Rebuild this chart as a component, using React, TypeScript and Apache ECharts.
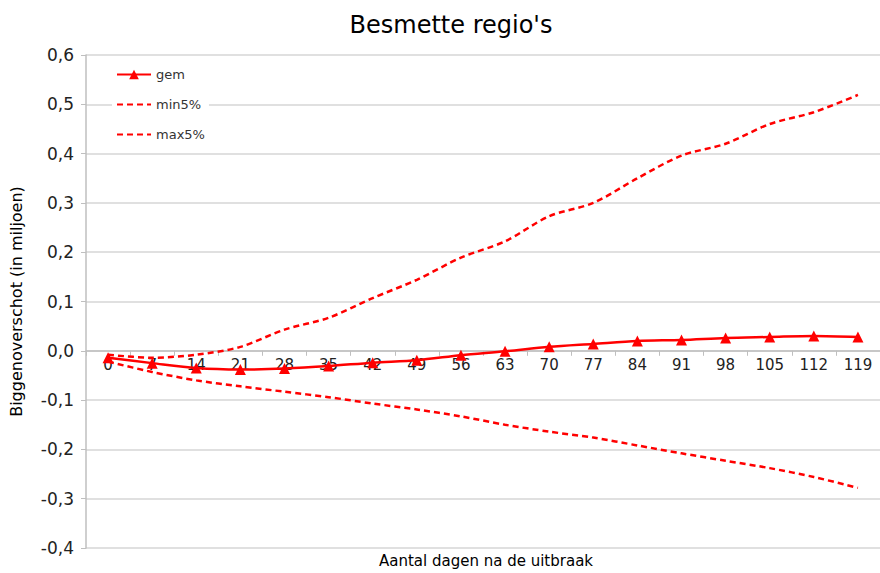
import React, { useEffect, useRef } from "react";
import * as echarts from "echarts";

const days = ["0", "7", "14", "21", "28", "35", "42", "49", "56", "63", "70", "77", "84", "91", "98", "105", "112", "119"];
const gem = [-0.014, -0.025, -0.035, -0.038, -0.036, -0.031, -0.024, -0.019, -0.009, -0.001, 0.008, 0.014, 0.02, 0.022, 0.026, 0.028, 0.03, 0.028];
const min5 = [-0.022, -0.043, -0.06, -0.072, -0.083, -0.094, -0.107, -0.119, -0.133, -0.15, -0.164, -0.176, -0.192, -0.208, -0.223, -0.238, -0.256, -0.278];
const max5 = [-0.008, -0.014, -0.008, 0.008, 0.043, 0.067, 0.107, 0.144, 0.189, 0.222, 0.273, 0.3, 0.35, 0.396, 0.42, 0.46, 0.484, 0.519];

const FONT = "DejaVu Sans";
const RED = "#ff0000";
const Y_MIN = -0.4;
const Y_MAX = 0.6;
const GRID_TOP = 55;
const GRID_H = 493;

export default function App() {
  const ref = useRef<HTMLDivElement>(null);
  useEffect(() => {
    if (!ref.current) return;
    const chart = echarts.init(ref.current, undefined, { renderer: "svg" });
    // distance from bottom of grid to the zero line
    const zeroOffset = (GRID_H * (0 - Y_MIN)) / (Y_MAX - Y_MIN);
    chart.setOption({
      animation: false,
      backgroundColor: "#ffffff",
      textStyle: { fontFamily: FONT },
      title: [
        {
          text: "Besmette regio's",
          left: 446,
          textAlign: "center",
          top: 8,
          textStyle: { fontFamily: FONT, fontSize: 24, fontWeight: "normal", color: "#000" },
        },
        {
          text: "Aantal dagen na de uitbraak",
          left: 486,
          textAlign: "center",
          top: 553,
          padding: 0,
          textStyle: { fontFamily: FONT, fontSize: 15, fontWeight: "normal", color: "#000" },
        },
      ],
      legend: {
        orient: "vertical",
        left: 112,
        top: 66,
        itemWidth: 34,
        itemHeight: 12,
        itemGap: 17,
        padding: [2, 4, 2, 4],
        backgroundColor: "#ffffff",
        textStyle: { fontFamily: FONT, fontSize: 13, color: "#333" },
        data: [
          { name: "gem" },
          { name: "min5%", itemStyle: { opacity: 0 } },
          { name: "max5%", itemStyle: { opacity: 0 } },
        ],
      },
      grid: { left: 86, top: GRID_TOP, width: 801, height: GRID_H, containLabel: false },
      xAxis: {
        type: "category",
        data: days,
        boundaryGap: true,
        position: "bottom",
        offset: -zeroOffset,
        axisLine: { onZero: false, lineStyle: { color: "#bfbfbf", width: 1.5 } },
        axisTick: { show: true, alignWithLabel: false, length: 5, lineStyle: { color: "#bfbfbf" } },
        axisLabel: { fontFamily: FONT, fontSize: 15, color: "#222", margin: 7 },
      },
      yAxis: {
        type: "value",
        min: Y_MIN,
        max: Y_MAX,
        interval: 0.1,
        name: "Biggenoverschot (in miljoen)",
        nameLocation: "middle",
        nameGap: 62,
        nameTextStyle: { fontFamily: FONT, fontSize: 16, color: "#000" },
        axisLine: { show: true, onZero: false, lineStyle: { color: "#bfbfbf", width: 1.5 } },
        axisTick: { show: true, length: 5, lineStyle: { color: "#bfbfbf" } },
        axisLabel: {
          fontFamily: FONT,
          fontSize: 17,
          color: "#222",
          margin: 12,
          formatter: (v: number) => v.toFixed(1).replace(".", ",").replace("-0,0", "0,0"),
        },
        splitLine: { show: true, lineStyle: { color: "#d6d6d6", width: 1.5 } },
      },
      series: [
        {
          name: "gem",
          type: "line",
          data: gem,
          smooth: 0.3,
          symbol: "triangle",
          symbolSize: 11,
          itemStyle: { color: RED },
          lineStyle: { color: RED, width: 2.5 },
          z: 5,
        },
        {
          name: "min5%",
          type: "line",
          data: min5,
          smooth: 0.3,
          symbol: "none",
          itemStyle: { color: RED },
          lineStyle: { color: RED, width: 2.5, type: [6, 4] },
        },
        {
          name: "max5%",
          type: "line",
          data: max5,
          smooth: 0.3,
          symbol: "none",
          itemStyle: { color: RED },
          lineStyle: { color: RED, width: 2.5, type: [6, 4] },
        },
      ],
    });
    return () => chart.dispose();
  }, []);
  return <div ref={ref} style={{ position: "fixed", left: 0, top: 0, width: 880, height: 573 }} />;
}
